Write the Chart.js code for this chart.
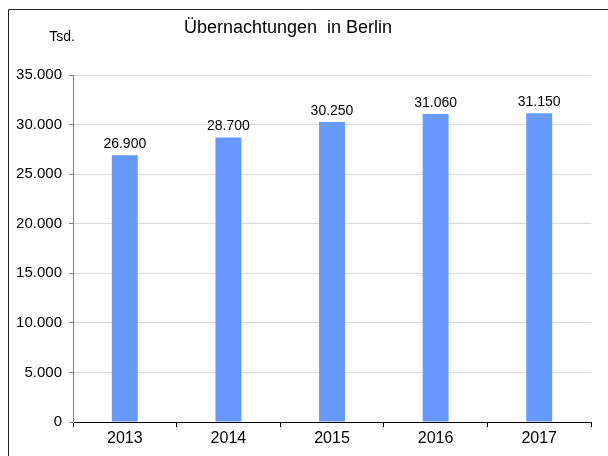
<!DOCTYPE html>
<html lang="de">
<head>
  <meta charset="UTF-8" />
  <title>Übernachtungen in Berlin</title>
  <script src="https://cdn.jsdelivr.net/npm/chart.js"></script>
  <style>
    html, body { margin: 0; padding: 0; background: #fff; }
    canvas { display: block; }
  </style>
</head>
<body>
  <canvas id="chart" width="608" height="456"></canvas>

  <script>
    // Daten
    const years = ['2013', '2014', '2015', '2016', '2017'];
    const nights = [26900, 28700, 30250, 31060, 31150];
    const yTicks = [0, 5000, 10000, 15000, 20000, 25000, 30000, 35000];

    const FONT = '"Liberation Sans", Arial, sans-serif';

    // 35000 -> "35.000"
    const fmt = v => String(v).replace(/\B(?=(\d{3})+(?!\d))/g, '.');

    // Rahmen, Titel, "Tsd." und Werte über den Säulen
    const decor = {
      id: 'decor',
      afterDraw(chart) {
        const ctx = chart.ctx;
        ctx.save();
        ctx.strokeStyle = '#222';
        ctx.lineWidth = 1;
        ctx.beginPath();
        ctx.moveTo(8.5, 456);
        ctx.lineTo(8.5, 9.5);
        ctx.lineTo(608, 9.5);
        ctx.stroke();

        ctx.fillStyle = '#000';
        ctx.textAlign = 'center';
        ctx.textBaseline = 'alphabetic';
        ctx.font = '18px ' + FONT;
        ctx.fillText('Übernachtungen  in Berlin', 288, 33);
        ctx.font = '14px ' + FONT;
        ctx.fillText('Tsd.', 62, 41);

        const meta = chart.getDatasetMeta(0);
        ctx.font = '14px ' + FONT;
        meta.data.forEach((bar, i) => {
          ctx.fillText(fmt(nights[i]), bar.x, bar.y - 7);
        });
        ctx.restore();
      }
    };

    new Chart(document.getElementById('chart'), {
      type: 'bar',
      data: {
        labels: years,
        datasets: [{
          data: nights,
          backgroundColor: '#6699ff',
          barPercentage: 0.25,
          categoryPercentage: 1
        }]
      },
      options: {
        responsive: false,
        animation: false,
        layout: { padding: { top: 75, right: 17, left: 0, bottom: 0 } },
        plugins: {
          legend: { display: false },
          title: { display: false },
          tooltip: { enabled: false }
        },
        scales: {
          x: {
            afterFit: s => { s.height = 34; },
            border: { color: '#000', width: 1 },
            grid: { offset: true, drawOnChartArea: false, color: '#000', tickLength: 5 },
            ticks: { color: '#000', font: { family: FONT, size: 16 }, padding: 2 }
          },
          y: {
            min: 0,
            max: 35000,
            afterFit: s => { s.width = 73; },
            afterBuildTicks: s => { s.ticks = yTicks.map(v => ({ value: v })); },
            border: { color: '#808080', width: 1 },
            grid: { color: '#d9d9d9', tickColor: '#808080', tickLength: 4 },
            ticks: {
              color: '#000',
              font: { family: FONT, size: 15 },
              padding: 7,
              callback: v => fmt(v)
            }
          }
        }
      },
      plugins: [decor]
    });
  </script>
</body>
</html>
